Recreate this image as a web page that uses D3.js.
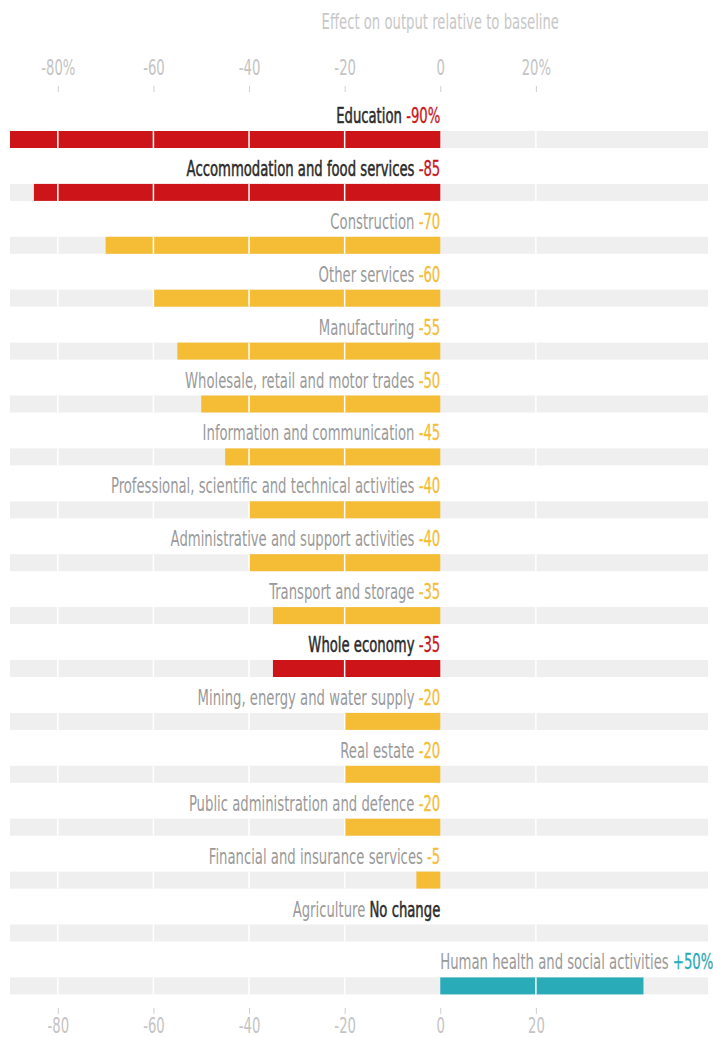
<!DOCTYPE html>
<html lang="en">
<head>
<meta charset="UTF-8">
<title>Effect on output relative to baseline</title>
<script src="https://d3js.org/d3.v7.min.js"></script>
<style>
  body { margin: 0; background: #fff; }
  svg text { font-family: "DejaVu Sans Condensed", "Liberation Sans Narrow", sans-serif; }
</style>
</head>
<body>
<div id="chart"></div>
<script>
// data
var sectors = [
  "Education", "Accommodation and food services", "Construction", "Other services",
  "Manufacturing", "Wholesale, retail and motor trades", "Information and communication",
  "Professional, scientific and technical activities", "Administrative and support activities",
  "Transport and storage", "Whole economy", "Mining, energy and water supply", "Real estate",
  "Public administration and defence", "Financial and insurance services", "Agriculture",
  "Human health and social activities"
];
var values = [-90, -85, -70, -60, -55, -50, -45, -40, -40, -35, -35, -20, -20, -20, -5, 0, 42.5];
var valueLabels = ["-90%", "-85", "-70", "-60", "-55", "-50", "-45", "-40", "-40", "-35",
  "-35", "-20", "-20", "-20", "-5", "No change", "+50%"];
var highlighted = ["Education", "Accommodation and food services", "Whole economy"];
var tickValues = [-80, -60, -40, -20, 0, 20];
var topTickLabels = ["-80%", "-60", "-40", "-20", "0", "20%"];
var bottomTickLabels = ["-80", "-60", "-40", "-20", "0", "20"];

var width = 713, height = 1037;
var red = "#cc1419", yellow = "#f4bd35", teal = "#2aabb8";
var squeeze = "scale(0.70,1)";   // the original uses a condensed face

var svg = d3.select("#chart").append("svg")
  .attr("width", width)
  .attr("height", height);

var x = d3.scaleLinear().domain([-90, 56]).range([10, 708]);
var rowH = 52.9, barH = 17;
function barTop(i) { return 131 + i * rowH; }

function barColor(name, v) {
  if (highlighted.indexOf(name) >= 0) return red;
  return v > 0 ? teal : yellow;
}

// title
svg.append("g")
  .attr("transform", "translate(" + x(0) + ",29)")
  .append("text")
  .attr("transform", squeeze)
  .attr("text-anchor", "middle")
  .attr("fill", "#c8c8c8")
  .style("font-size", "21px")
  .text("Effect on output relative to baseline");

// axes
var topAxis = svg.append("g")
  .attr("transform", "translate(0,92)")
  .call(d3.axisTop(x).tickValues(tickValues).tickSize(6).tickPadding(11)
    .tickFormat(function (d, i) { return topTickLabels[i]; }));
var bottomAxis = svg.append("g")
  .attr("transform", "translate(0,1008)")
  .call(d3.axisBottom(x).tickValues(tickValues).tickSize(6).tickPadding(4)
    .tickFormat(function (d, i) { return bottomTickLabels[i]; }));
[topAxis, bottomAxis].forEach(function (g) {
  g.select(".domain").remove();
  g.selectAll(".tick line").attr("stroke", "#cfcfcf");
  g.selectAll(".tick text")
    .attr("fill", "#c4c4c4")
    .attr("transform", squeeze)
    .style("font-size", "21px")
    .style("font-family", "\"DejaVu Sans Condensed\", sans-serif");
});

var rows = svg.selectAll("g.row")
  .data(sectors)
  .enter().append("g")
  .attr("class", "row")
  .attr("transform", function (d, i) { return "translate(0," + barTop(i) + ")"; });

// grey background track
rows.append("rect")
  .attr("x", x(-90))
  .attr("width", x(56) - x(-90))
  .attr("height", barH)
  .attr("fill", "#efefef");

// bars
rows.append("rect")
  .attr("x", function (d, i) { return x(Math.min(0, values[i])); })
  .attr("width", function (d, i) { return Math.abs(x(values[i]) - x(0)); })
  .attr("height", barH)
  .attr("fill", function (d, i) { return barColor(d, values[i]); });

// white gridlines across the tracks
rows.selectAll("line.grid")
  .data(tickValues.filter(function (t) { return t !== 0; }))
  .enter().append("line")
  .attr("class", "grid")
  .attr("x1", function (t) { return x(t); })
  .attr("x2", function (t) { return x(t); })
  .attr("y1", 0)
  .attr("y2", barH)
  .attr("stroke", "#fff")
  .attr("stroke-width", 1.5);

// labels, right-aligned on zero (left-aligned for gains)
var labels = rows.append("g")
  .attr("transform", "translate(" + x(0) + ",-8)")
  .append("text")
  .attr("transform", squeeze)
  .attr("text-anchor", function (d, i) { return values[i] > 0 ? "start" : "end"; })
  .style("font-size", "21px");

labels.append("tspan")
  .attr("fill", function (d) { return highlighted.indexOf(d) >= 0 ? "#2b2b2b" : "#9a9a9a"; })
  .attr("stroke", function (d) { return highlighted.indexOf(d) >= 0 ? "#2b2b2b" : "none"; })
  .attr("stroke-width", 0.5)
  .text(function (d) { return d + " "; });

labels.append("tspan")
  .attr("fill", function (d, i) {
    if (values[i] === 0) return "#2b2b2b";
    return barColor(d, values[i]);
  })
  .attr("stroke", function (d, i) {
    if (values[i] === 0) return "#2b2b2b";
    return barColor(d, values[i]);
  })
  .attr("stroke-width", function (d, i) { return values[i] === 0 ? 0.5 : 0.3; })
  .text(function (d, i) { return valueLabels[i]; });
</script>
</body>
</html>
